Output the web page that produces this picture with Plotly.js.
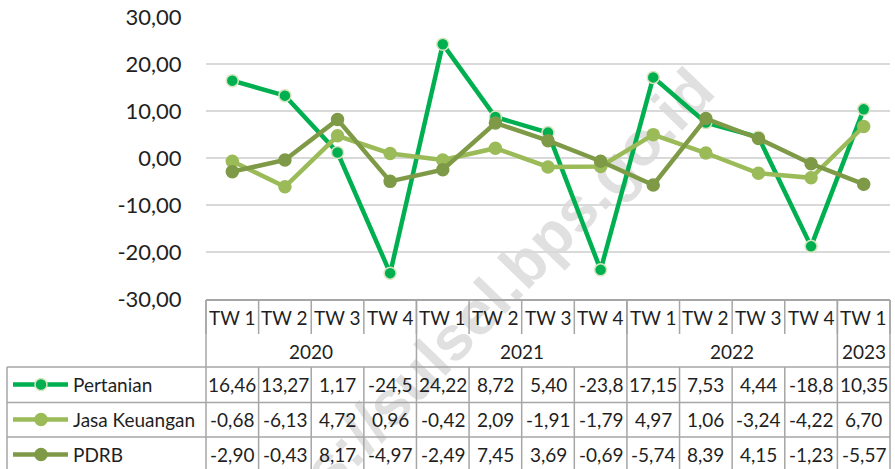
<!DOCTYPE html>
<html><head><meta charset="utf-8">
<script src="https://cdn.plot.ly/plotly-3.0.1.min.js"></script>
<style>
html,body{margin:0;padding:0;background:#fff;overflow:hidden;width:895px;height:469px;}
#wm{position:absolute;left:468px;top:322px;transform:translate(-50%,-50%) rotate(-46deg);font:bold 62px "Liberation Sans",Arial,sans-serif;color:#e0e0e0;white-space:nowrap;line-height:1;z-index:0;}
#chart{position:absolute;left:0;top:0;width:895px;height:469px;z-index:1;}
</style></head><body>
<div id="wm">https://sulsel.bps.go.id</div>
<div id="chart"></div>
<script>
const quarters = ['TW 1','TW 2','TW 3','TW 4','TW 1','TW 2','TW 3','TW 4','TW 1','TW 2','TW 3','TW 4','TW 1'];
const years = ['2020','2021','2022','2023'];
const yearSpans = [4, 4, 4, 1];
const seriesNames = ['Pertanian', 'Jasa Keuangan', 'PDRB'];
const pertanian = [16.46, 13.27, 1.17, -24.5, 24.22, 8.72, 5.40, -23.8, 17.15, 7.53, 4.44, -18.8, 10.35];
const jasaKeuangan = [-0.68, -6.13, 4.72, 0.96, -0.42, 2.09, -1.91, -1.79, 4.97, 1.06, -3.24, -4.22, 6.70];
const pdrb = [-2.90, -0.43, 8.17, -4.97, -2.49, 7.45, 3.69, -0.69, -5.74, 8.39, 4.15, -1.23, -5.57];
const yTicks = [-30, -20, -10, 0, 10, 20, 30];

const seriesData = [pertanian, jasaKeuangan, pdrb];
const colors = ['#00B050', '#9BBB59', '#7E9A47'];
const markerLines = ['#D7E4BD', '#9BBB59', '#7E9A47'];

const FONT = 'Lato, "Open Sans", sans-serif';
const TXT = '#1f1f1f';
const GRID = '#D9D9D9';
const TBL = '#A6A6A6';

const W = 895, H = 469, ML = 206, MR = 5, MT = 17, MB = 170;
const plotW = W - ML - MR, plotH = H - MT - MB;
const py = p => (H - MB - p) / plotH;      // pixel y -> paper y
const ppx = p => (p - ML) / plotW;         // pixel x -> paper x
const n = quarters.length;
const bx = k => k / n;                      // category boundary -> paper x

const fmtCell = v => ((v < 0 && Math.abs(v) >= 10) ? v.toFixed(1) : v.toFixed(2)).replace('.', ',');
const fmtTick = v => v.toFixed(2).replace('.', ',');

const xs = quarters.map((_, i) => i);
const traces = seriesData.map((d, s) => ({
  type: 'scatter', mode: 'lines+markers', x: xs, y: d, name: seriesNames[s],
  line: {color: colors[s], width: 4.5},
  marker: {color: colors[s], size: 12, line: {color: markerLines[s], width: 1.5}},
  showlegend: false, hoverinfo: 'skip'
}));

const shapes = [];
const line = (x0, y0, x1, y1, c, w) => shapes.push({type: 'line', xref: 'paper', yref: 'paper', x0, y0, x1, y1, line: {color: c || TBL, width: w || 1.5}});

// quarter row separators
for (let k = 0; k <= n; k++) line(bx(k), py(300), bx(k), py(334));
// year separators
let acc = 0;
const yb = [0];
yearSpans.forEach(s => { acc += s; yb.push(acc); });
yb.forEach(k => line(bx(k), py(300), bx(k), py(367)));
// data rows verticals
for (let k = 0; k <= n; k++) line(bx(k), py(367), bx(k), py(472));
line(ppx(7), py(367), ppx(7), py(472));
// horizontals
[367, 402.5, 437].forEach(p => line(ppx(7), py(p), 1, py(p)));

const FS = 19;
const rowY = [384.5, 419.5, 454.5];
const annotations = [];
quarters.forEach((q, i) => annotations.push({xref: 'x', yref: 'paper', x: i, y: py(317), text: q, showarrow: false, xanchor: 'center', yanchor: 'middle', font: {family: FONT, size: FS, color: TXT}}));
yearSpans.forEach((s, j) => {
  const c = yb[j] + (s - 1) / 2;
  annotations.push({xref: 'x', yref: 'paper', x: c, y: py(351), text: years[j], showarrow: false, xanchor: 'center', yanchor: 'middle', font: {family: FONT, size: FS, color: TXT}});
});
seriesData.forEach((d, s) => {
  d.forEach((v, i) => annotations.push({xref: 'x', yref: 'paper', x: i, y: py(rowY[s]), text: fmtCell(v), showarrow: false, xanchor: 'center', yanchor: 'middle', font: {family: FONT, size: FS, color: TXT}}));
  // legend key
  line(ppx(13), py(rowY[s]), ppx(68), py(rowY[s]), colors[s], 4.5);
  shapes.push({type: 'circle', xref: 'paper', yref: 'paper', xsizemode: 'pixel', ysizemode: 'pixel', xanchor: ppx(41), yanchor: py(rowY[s]), x0: -6, x1: 6, y0: -6, y1: 6, fillcolor: colors[s], line: {color: markerLines[s], width: 1.5}});
  annotations.push({xref: 'paper', yref: 'paper', x: ppx(71), y: py(rowY[s]), text: seriesNames[s], showarrow: false, xanchor: 'left', yanchor: 'middle', font: {family: FONT, size: FS, color: TXT}});
});

const layout = {
  width: W, height: H,
  margin: {l: ML, r: MR, t: MT, b: MB, pad: 0},
  paper_bgcolor: 'rgba(0,0,0,0)', plot_bgcolor: 'rgba(0,0,0,0)',
  showlegend: false,
  xaxis: {range: [-0.5, n - 0.5], showgrid: false, zeroline: false, showticklabels: false, ticks: '', showline: true, linecolor: TBL, linewidth: 1.5, fixedrange: true},
  yaxis: {range: [-30, 30], tickvals: yTicks, ticktext: yTicks.map(fmtTick), showgrid: true, gridcolor: GRID, gridwidth: 1.5, zeroline: false, showline: false, ticks: 'outside', ticklen: 19, tickcolor: 'rgba(0,0,0,0)', tickfont: {family: FONT, size: 22, color: TXT}, fixedrange: true},
  shapes, annotations
};
Plotly.newPlot('chart', traces, layout, {displayModeBar: false, staticPlot: true});
</script>
</body></html>
